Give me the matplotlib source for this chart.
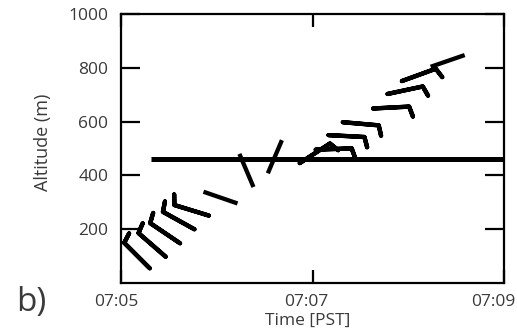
import numpy as np
import matplotlib
matplotlib.use("Agg")
import matplotlib.pyplot as plt
import matplotlib.transforms as mtransforms

plt.rcParams['font.family'] = ['Open Sans', 'DejaVu Sans']

# --- data (time in seconds after 07:05:00 PST) ---
time_s = [18, 28, 37, 46, 55, 73, 83, 92, 112, 122, 130, 139, 158, 167, 176, 194]
altitude_m = [55, 98, 148, 200, 251, 296, 357, 408, 446, 496, 550, 598, 649, 703, 751, 804]
wind_dir_deg = [315, 311, 304, 299, 287, 289, 337, 23, 57, 88, 93, 95, 87, 78, 70, 71]
wind_speed = [10, 10, 10, 10, 10, 2, 2, 2, 10, 10, 10, 10, 10, 10, 10, 2]

bl_height = 461        # horizontal line (m)
bl_start_s = 19        # where it starts

xtick_min = [0, 2, 4]
xtick_labels = ['07:05', '07:07', '07:09']
yticks = [200, 400, 600, 800, 1000]

TXT = '#3a3a3a'

t = np.array(time_s) / 60.0
alt = np.array(altitude_m, dtype=float)
d = np.deg2rad(wind_dir_deg)
spd = np.array(wind_speed, dtype=float)
u = -spd * np.sin(d)
v = -spd * np.cos(d)

fig = plt.figure(figsize=(5.17, 3.35), dpi=100)
ax = fig.add_axes([0.234, 0.155, 0.741, 0.803])

# barbs with at least one barb
full = spd >= 5
ax.barbs(t[full], alt[full], u[full], v[full], length=7.2, pivot='tip',
         linewidth=3.1, barbcolor='k', sizes=dict(height=0.28, width=0.18))

# staff-only (light wind)
calm = ~full
L = 36  # staff length in pixels
ax.quiver(t[calm], alt[calm], L * np.sin(d[calm]), L * np.cos(d[calm]),
          angles='uv', scale_units='dots', scale=1, units='dots', width=4.3,
          headwidth=0, headlength=0, headaxislength=0, pivot='tail', color='k')

ax.hlines(bl_height, bl_start_s / 60.0, 4, color='k', lw=3.6)

ax.set_xlim(0, 4)
ax.set_ylim(0, 1000)
ax.set_xticks(xtick_min)
ax.set_xticklabels(xtick_labels)
ax.set_yticks(yticks)

for s in ax.spines.values():
    s.set_linewidth(1.6)
ax.tick_params(axis='both', direction='in', top=True, right=True, width=1.6,
               labelsize=12.5, labelcolor=TXT)
ax.tick_params(axis='x', length=9.5, pad=8)
ax.tick_params(axis='y', length=13.5, pad=9)

# the reference's time labels sit a little left of their ticks
for lab, dx in zip(ax.get_xticklabels(), [-3, -4.5, -7.5]):
    lab.set_transform(lab.get_transform() +
                      mtransforms.ScaledTranslation(dx / 72, 0, fig.dpi_scale_trans))

ax.set_xlabel('Time [PST]', fontsize=12.5, color=TXT)
ax.set_ylabel('Altitude (m)', fontsize=13, color=TXT)
ax.xaxis.set_label_coords(0.488, -0.11)
ax.yaxis.set_label_coords(-0.18, 0.524)

fig.text(31 / 517, 1 - 302 / 335, 'b)', fontsize=24, color=TXT,
         ha='center', va='center')

fig.savefig('out.png', dpi=100)
